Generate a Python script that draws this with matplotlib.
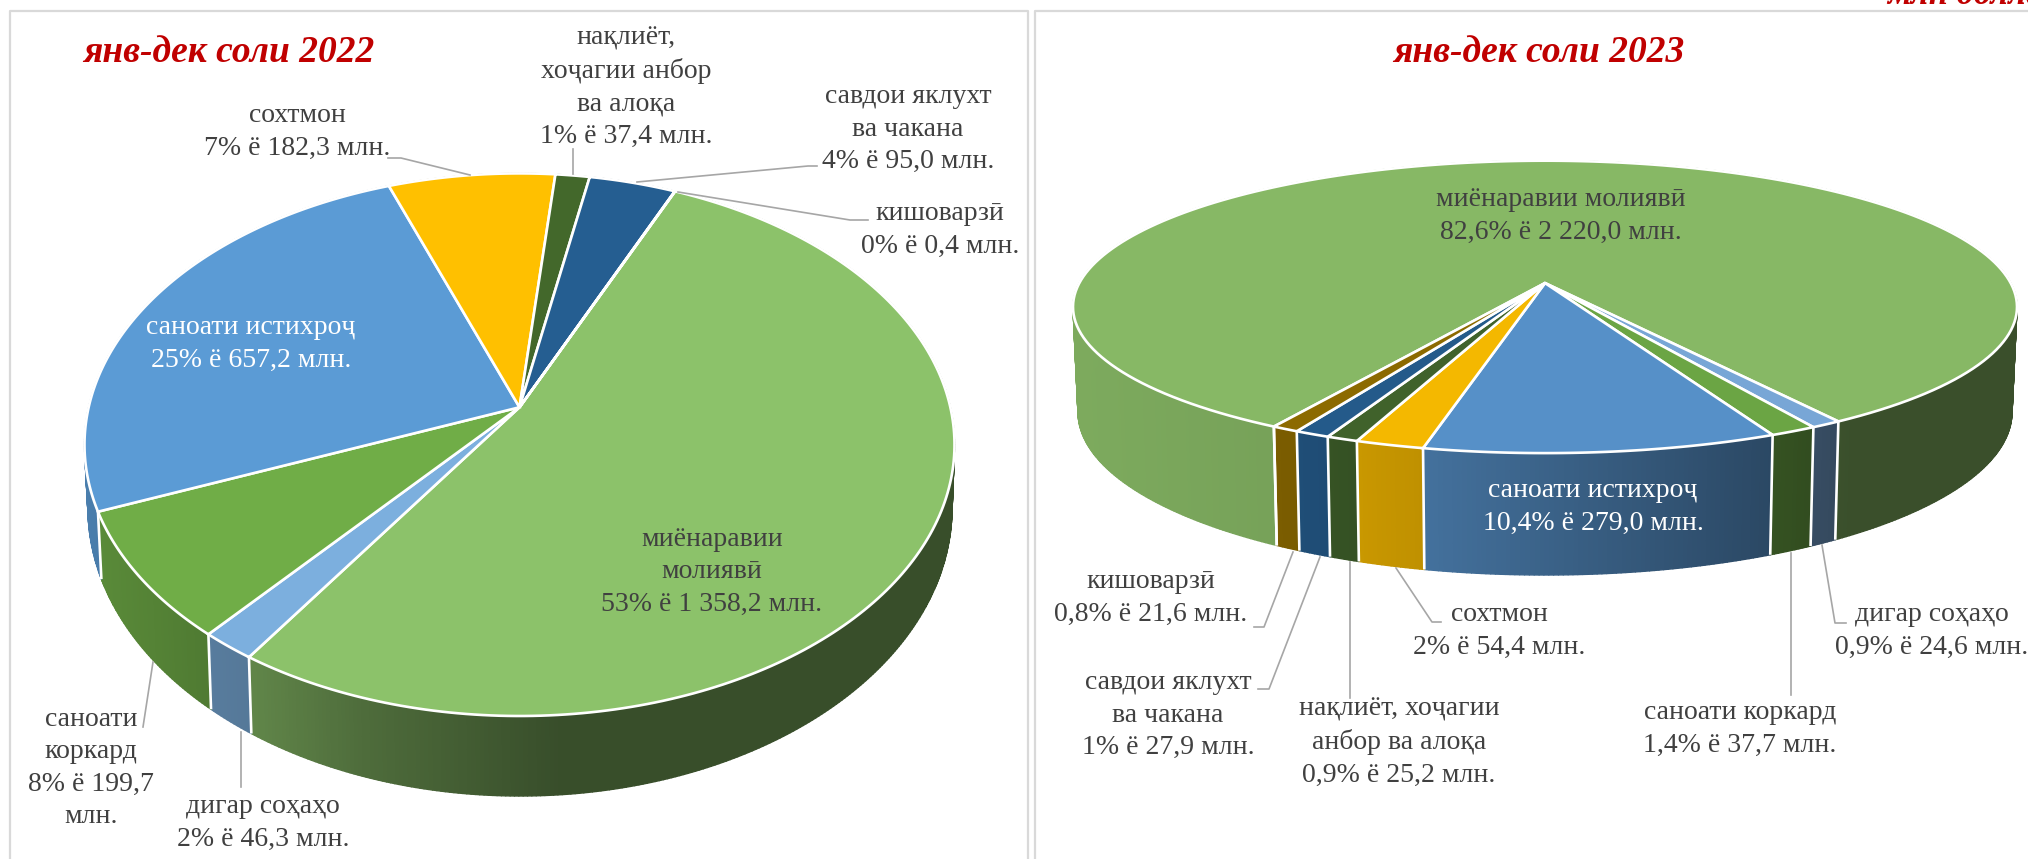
"""Two perspective 3-D pies: sector structure, Jan-Dec 2022 vs 2023."""

import matplotlib
matplotlib.use("Agg")
import matplotlib.pyplot as plt
from matplotlib.collections import PolyCollection
import numpy as np

# values in the order they run clockwise round the pie
sectors = ["миёнаравии молиявӣ", "дигар соҳаҳо", "саноати коркард", "саноати истихроҷ",
           "сохтмон", "нақлиёт", "савдо", "кишоварзӣ"]
values_2022 = [1358.2, 46.3, 199.7, 657.2, 182.3, 37.4, 95.0, 0.4]
values_2023 = [2220.0, 24.6, 37.7, 279.0, 54.4, 25.2, 27.9, 21.6]

colors_2022 = ["#8CC26A", "#7CAFDE", "#70AD47", "#5B9BD5", "#FFC000", "#43682B", "#255E91", "#997300"]
colors_2023 = ["#87B865", "#78A6D6", "#6BA544", "#5690C8", "#F4B800", "#40622B", "#245A8A", "#8C6A00"]

labels_2022 = [
    "миёнаравии\nмолиявӣ\n53% ё 1 358,2 млн.",
    "дигар соҳаҳо\n2% ё 46,3 млн.",
    "саноати\nкоркард\n8% ё 199,7\nмлн.",
    "саноати истихроҷ\n25% ё 657,2 млн.",
    "сохтмон\n7% ё 182,3 млн.",
    "нақлиёт,\nхоҷагии анбор\nва алоқа\n1% ё 37,4 млн.",
    "савдои яклухт\nва чакана\n4% ё 95,0 млн.",
    "кишоварзӣ\n0% ё 0,4 млн.",
]
labels_2023 = [
    "миёнаравии молиявӣ\n82,6% ё 2 220,0 млн.",
    "дигар соҳаҳо\n0,9% ё 24,6 млн.",
    "саноати коркард\n1,4% ё 37,7 млн.",
    "саноати истихроҷ\n10,4% ё 279,0 млн.",
    "сохтмон\n2% ё 54,4 млн.",
    "нақлиёт, хоҷагии\nанбор ва алоқа\n0,9% ё 25,2 млн.",
    "савдои яклухт\nва чакана\n1% ё 27,9 млн.",
    "кишоварзӣ\n0,8% ё 21,6 млн.",
]

# label centres and leader lines, in figure pixels
label_xy_2022 = [(712, 572), (263, 823), (91, 768), (251, 344), (297, 132), (626, 87), (908, 129), (940, 230)]
label_xy_2023 = [(1561, 216), (1932, 631), (1740, 729), (1593, 507), (1499, 631), (1399, 742), (1168, 715), (1151, 598)]
leaders_2022 = [
    [(241, 732), (241, 787)],
    [(153, 662), (143, 727)],
    [(388, 158), (401, 158), (470, 175)],
    [(573, 149), (573, 174)],
    [(817, 166), (808, 166), (637, 182)],
    [(678, 192), (850, 220), (868, 220)],
]
leaders_2023 = [
    [(1254, 627), (1264, 627), (1293, 552)],
    [(1258, 689), (1269, 689), (1320, 557)],
    [(1350, 562), (1350, 698)],
    [(1396, 568), (1432, 622), (1441, 622)],
    [(1791, 553), (1791, 695)],
    [(1822, 545), (1835, 623), (1846, 623)],
]

# ellipse of the top and bottom face: cx, cy, half width, half height, perspective
top_2022 = (519.5, 444.7, 435, 271.3, 0.138)
bot_2022 = (520, 508, 432, 288, 0.138)
top_2023 = (1545, 306.9, 472, 146.2, 0.163)
bot_2023 = (1545, 412, 467, 163, 0.163)
start_2022 = 24.0
start_2023 = 210.0

# wall brightness against x
shade_2022 = ([85, 205, 260, 360, 560], [0.81, 0.71, 0.68, 0.56, 0.40])
shade_2023 = ([1078, 1270, 1428, 1771, 1850], [0.925, 0.88, 0.78, 0.50, 0.43])

TEXT = "#404040"
RED = "#C00000"
GREY = "#A6A6A6"
FS = 20


def project(theta_deg, face):
    """Angle clockwise from the top of the pie -> pixel on a perspective ellipse."""
    cx, cy, a, b, k = face
    t = np.radians(theta_deg)
    x, y = np.sin(t), np.cos(t)
    w = 1 + k * y
    return cx + a * np.sqrt(1 - k**2) * x / w, cy - b * k - b * (1 - k**2) * y / w


def hub(face):
    cx, cy, a, b, k = face
    return cx, cy - b * k


def draw_pie(ax, values, colors, labels, label_xy, leaders, top, bot, start, shade):
    vals = np.array(values)
    edges = start + np.concatenate([[0], np.cumsum(vals)]) / vals.sum() * 360

    # side wall, cut in thin strips so it can follow the gradient
    for i, col in enumerate(colors):
        base = np.array(matplotlib.colors.to_rgb(col))
        th = np.linspace(edges[i], edges[i + 1], max(int(edges[i + 1] - edges[i]) * 2, 2) + 1)
        tx, ty = project(th, top)
        bx, by = project(th, bot)
        polys, cols = [], []
        for j in range(len(th) - 1):
            polys.append([(tx[j], ty[j]), (tx[j + 1], ty[j + 1]), (bx[j + 1], by[j + 1]), (bx[j], by[j])])
            cols.append(base * np.interp((tx[j] + tx[j + 1]) / 2, *shade))
        ax.add_collection(PolyCollection(polys, facecolors=cols, edgecolors=cols, linewidths=1.0, zorder=2))

    # white seams on the visible wall
    for e in edges:
        if np.cos(np.radians(e)) < 0.2:
            tx, ty = project(e, top)
            bx, by = project(e, bot)
            ax.plot([tx, bx], [ty, by], color="white", lw=1.9, zorder=3, solid_capstyle="butt")

    # top face
    hx, hy = hub(top)
    for i, col in enumerate(colors):
        th = np.linspace(edges[i], edges[i + 1], 200)
        px, py = project(th, top)
        ax.fill(np.r_[hx, px], np.r_[hy, py], facecolor=col, edgecolor="white", lw=1.9, zorder=4)

    for pts in leaders:
        xs, ys = zip(*pts)
        ax.plot(xs, ys, color=GREY, lw=1.2, zorder=5)

    for i, (txt, (x, y)) in enumerate(zip(labels, label_xy)):
        # only the extraction label sits on a dark slice
        color = "white" if i == 3 else TEXT
        ax.text(x, y, txt, color=color, fontsize=FS, ha="center", va="center", linespacing=1.39,
                multialignment="center", zorder=6)


def main():
    plt.rcParams["font.family"] = ["Liberation Serif", "DejaVu Serif"]
    fig = plt.figure(figsize=(20.28, 8.59), dpi=100)
    ax = fig.add_axes([0, 0, 1, 1])
    ax.set_xlim(0, 2028)
    ax.set_ylim(859, 0)
    ax.axis("off")

    # panel frames run off the bottom of the crop
    for x0, x1 in [(10, 1028), (1035, 2040)]:
        ax.plot([x0, x0, x1, x1], [870, 11, 11, 870], color="#D9D9D9", lw=1.6, zorder=1)

    draw_pie(ax, values_2022, colors_2022, labels_2022, label_xy_2022, leaders_2022,
             top_2022, bot_2022, start_2022, shade_2022)
    draw_pie(ax, values_2023, colors_2023, labels_2023, label_xy_2023, leaders_2023,
             top_2023, bot_2023, start_2023, shade_2023)

    ax.text(229, 52, "янв-дек соли 2022", color=RED, fontsize=27, style="italic", weight="bold",
            ha="center", va="center")
    ax.text(1539, 53, "янв-дек соли 2023", color=RED, fontsize=27, style="italic", weight="bold",
            ha="center", va="center")
    # unit note, cut by the top of the picture
    ax.text(1887, 4, "млн доллар", color=RED, fontsize=25, style="italic", weight="bold",
            ha="left", va="baseline")

    fig.savefig("out.png", dpi=100)


if __name__ == "__main__":
    main()
